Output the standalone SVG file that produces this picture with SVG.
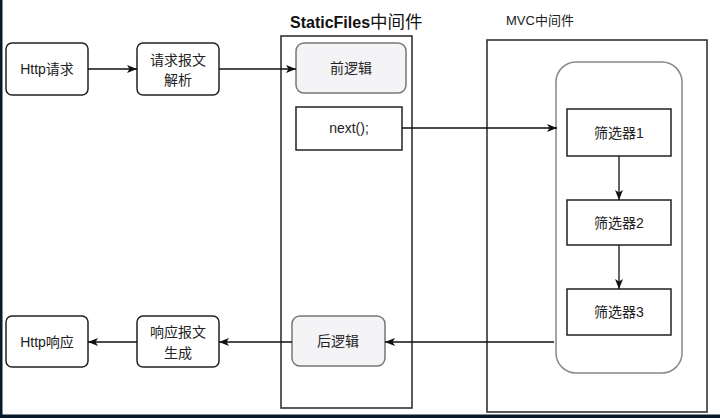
<svg xmlns="http://www.w3.org/2000/svg" width="720" height="418" viewBox="0 0 720 418">
<defs>
<marker id="arr" markerUnits="userSpaceOnUse" markerWidth="10" markerHeight="10" refX="10" refY="5" orient="auto">
<path d="M0,1 L10,5 L0,9 L2.5,5 Z" fill="#111"/>
</marker>
</defs>
<style>
.node{fill:#fff;stroke:#222;stroke-width:1.5}
.soft{fill:#f4f3f6;stroke:#777;stroke-width:1.5}
.cont{fill:none;stroke:#333;stroke-width:1.6}
.inner{fill:none;stroke:#888;stroke-width:1.5}
.lbl{font-family:"Liberation Sans","Noto Sans CJK SC",sans-serif;font-size:14px;fill:#222;text-anchor:middle}
.edge{fill:none;stroke:#111;stroke-width:1.3;marker-end:url(#arr)}
</style>
<rect x="0" y="0" width="720" height="418" fill="#fff"/>
<rect x="0" y="0" width="2.5" height="418" fill="#0b1a28"/>
<rect x="0" y="414.5" width="720" height="3.5" fill="#0b1a28"/>

<g id="staticfiles">
<rect class="cont" x="281" y="36" width="131" height="372"/>
<text x="290" y="28" font-family="'Liberation Sans','Noto Sans CJK SC',sans-serif" fill="#111"><tspan font-size="16" font-weight="bold">StaticFiles</tspan><tspan font-size="17.5">中间件</tspan></text>
</g>
<g id="mvc">
<rect class="cont" x="487" y="40" width="220" height="372"/>
<text x="506" y="25" font-family="'Liberation Sans','Noto Sans CJK SC',sans-serif" font-size="13" fill="#222">MVC中间件</text>
</g>
<g id="filters">
<rect class="inner" x="556" y="62" width="126" height="311" rx="20" ry="20"/>
</g>

<g id="http-req">
<rect class="node" x="6" y="43" width="82" height="52" rx="6"/>
<text class="lbl" x="47" y="74">Http请求</text>
</g>
<g id="parse">
<rect class="node" x="137" y="43" width="82" height="52" rx="6"/>
<text class="lbl" x="178" y="65">请求报文</text>
<text class="lbl" x="178" y="85">解析</text>
</g>
<g id="pre">
<rect class="soft" x="296" y="43" width="110" height="50" rx="8"/>
<text class="lbl" x="351" y="73">前逻辑</text>
</g>
<g id="next">
<rect class="node" x="296" y="107" width="106" height="43"/>
<text class="lbl" x="349" y="133">next();</text>
</g>
<g id="f1">
<rect class="node" x="567" y="109" width="104" height="47"/>
<text class="lbl" x="619" y="138">筛选器1</text>
</g>
<g id="f2">
<rect class="node" x="567" y="200" width="104" height="45"/>
<text class="lbl" x="619" y="228">筛选器2</text>
</g>
<g id="f3">
<rect class="node" x="567" y="289" width="104" height="46"/>
<text class="lbl" x="619" y="317">筛选器3</text>
</g>
<g id="post">
<rect class="soft" x="292" y="316" width="93" height="50" rx="8"/>
<text class="lbl" x="338" y="346">后逻辑</text>
</g>
<g id="gen">
<rect class="node" x="137" y="316" width="82" height="51" rx="6"/>
<text class="lbl" x="178" y="337">响应报文</text>
<text class="lbl" x="178" y="358">生成</text>
</g>
<g id="http-resp">
<rect class="node" x="6" y="316" width="82" height="51" rx="6"/>
<text class="lbl" x="47" y="347">Http响应</text>
</g>

<g id="connectors">
<path class="edge" d="M88,69 L137,69"/>
<path class="edge" d="M219,69 L296,69"/>
<path class="edge" d="M402,128 L557,128"/>
<path class="edge" d="M619,156 L619,200"/>
<path class="edge" d="M619,245 L619,289"/>
<path class="edge" d="M554,342 L385,342"/>
<path class="edge" d="M292,342 L219,342"/>
<path class="edge" d="M137,342 L88,342"/>
</g>
</svg>
